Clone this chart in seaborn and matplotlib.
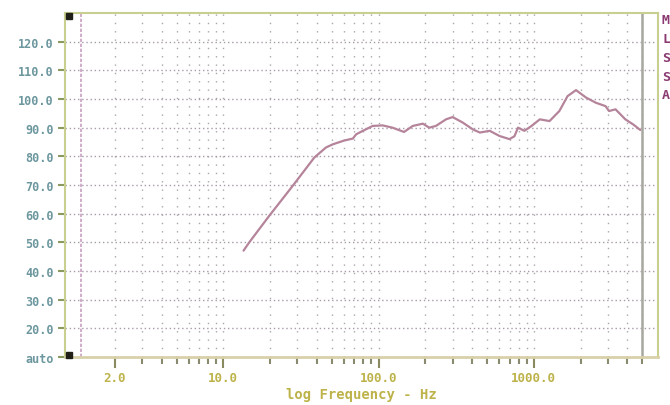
import numpy as np
import pandas as pd
import seaborn as sns
import matplotlib.pyplot as plt

# response curve
freq_hz = [13.5, 14.7, 19.8, 28.0, 38.6, 45.9, 50.8, 60.0, 68.3, 71.8, 80.0,
           91.6, 106, 123, 146, 166, 193, 212, 234, 272, 300, 348, 405, 449,
           520, 601, 697, 750, 792, 870, 967, 1093, 1263, 1461, 1650, 1870,
           2170, 2510, 2900, 3050, 3360, 3890, 4400, 4850]
level_db = [47.1, 50.0, 59.3, 69.7, 79.6, 83.1, 84.2, 85.5, 86.2, 87.7, 89.0,
            90.6, 90.8, 90.0, 88.5, 90.6, 91.4, 90.0, 90.6, 92.9, 93.7, 91.8,
            89.4, 88.3, 88.9, 87.1, 86.0, 87.0, 90.0, 88.9, 90.6, 92.9, 92.3,
            95.8, 101.0, 103.1, 100.5, 98.7, 97.5, 95.8, 96.4, 92.9, 91.0, 89.2]

x_major = [2, 10, 100, 1000]
x_major_labels = ["2.0", "10.0", "100.0", "1000.0"]
x_minor = [3, 4, 5, 6, 7, 8, 9, 20, 30, 40, 50, 60, 70, 80, 90,
           200, 300, 400, 500, 600, 700, 800, 900, 2000, 3000, 4000, 5000]
y_ticks = [10, 20, 30, 40, 50, 60, 70, 80, 90, 100, 110, 120]
y_labels = ["auto"] + [f"{v:.1f}" for v in y_ticks[1:]]
side_letters = ["M", "L", "S", "S", "A"]

df = pd.DataFrame({"freq": freq_hz, "db": level_db})

sns.set_style("white")
plt.rcParams['font.family'] = ['DejaVu Sans Mono', 'DejaVu Sans']

fig = plt.figure(figsize=(6.7, 4.06), dpi=100)
ax = fig.add_axes([65 / 670, 48 / 406, 593 / 670, 344 / 406])

ax.set_xscale('log')
ax.set_xlim(0.956, 6310)
ax.set_ylim(10, 130)

# grid
for v in x_major + x_minor:
    ax.axvline(v, color="#a8a8a8", lw=1.0, ls=(0, (1, 5)), zorder=1)
for v in y_ticks[1:]:
    ax.axhline(v, color="#a89aa8", lw=1.0, ls=(0, (1, 2)), zorder=1)
ax.axvline(1.22, color="#c8a0c0", lw=1.2, ls=(0, (2, 1)), zorder=1)
ax.axvline(5000, color="#a8a8a0", lw=1.8, zorder=1)

sns.lineplot(data=df, x="freq", y="db", ax=ax, color="#b5849a", lw=1.6,
             zorder=3, legend=False)

# ticks
ax.set_xticks(x_major)
ax.set_xticklabels(x_major_labels)
ax.set_xticks(x_minor, minor=True)
ax.set_xticklabels([], minor=True)
ax.tick_params(axis='x', which='major', direction='out', length=8, width=1.5,
               color="#8a8a60", labelcolor="#bdb34a", labelsize=9, pad=2,
               bottom=True)
ax.tick_params(axis='x', which='minor', direction='out', length=5, width=1.5,
               color="#8a8a70", bottom=True)
for t in ax.get_xticklabels():
    t.set_fontweight('bold')

ax.set_yticks(y_ticks)
ax.set_yticklabels(y_labels)
ax.tick_params(axis='y', direction='out', length=5, width=1.5, left=True,
               color="#8a9a60", labelcolor="#6c979e", labelsize=8.5, pad=3)
for t in ax.get_yticklabels():
    t.set_fontweight('bold')

ax.set_xlabel("log Frequency - Hz", color="#bdb34a", fontsize=10,
              fontweight='bold', labelpad=2)
ax.set_ylabel("")

for side in ["left", "top", "right"]:
    ax.spines[side].set_color("#c9d08f")
    ax.spines[side].set_linewidth(1.5)
ax.spines["bottom"].set_color("#d8d0a8")
ax.spines["bottom"].set_linewidth(2)

# corner squares
ax.plot([0.006, 0.006], [0.99, 0.006], 's', color="#202018", ms=5,
        transform=ax.transAxes, clip_on=False, zorder=5)

# cut-off side text
for i, s in enumerate(side_letters):
    fig.text(662 / 670, 1 - (21 + i * 18.7) / 406, s, color="#8a3a70",
             fontsize=9.5, fontweight='bold', va='center', ha='left')

fig.savefig("out.png", dpi=100)
